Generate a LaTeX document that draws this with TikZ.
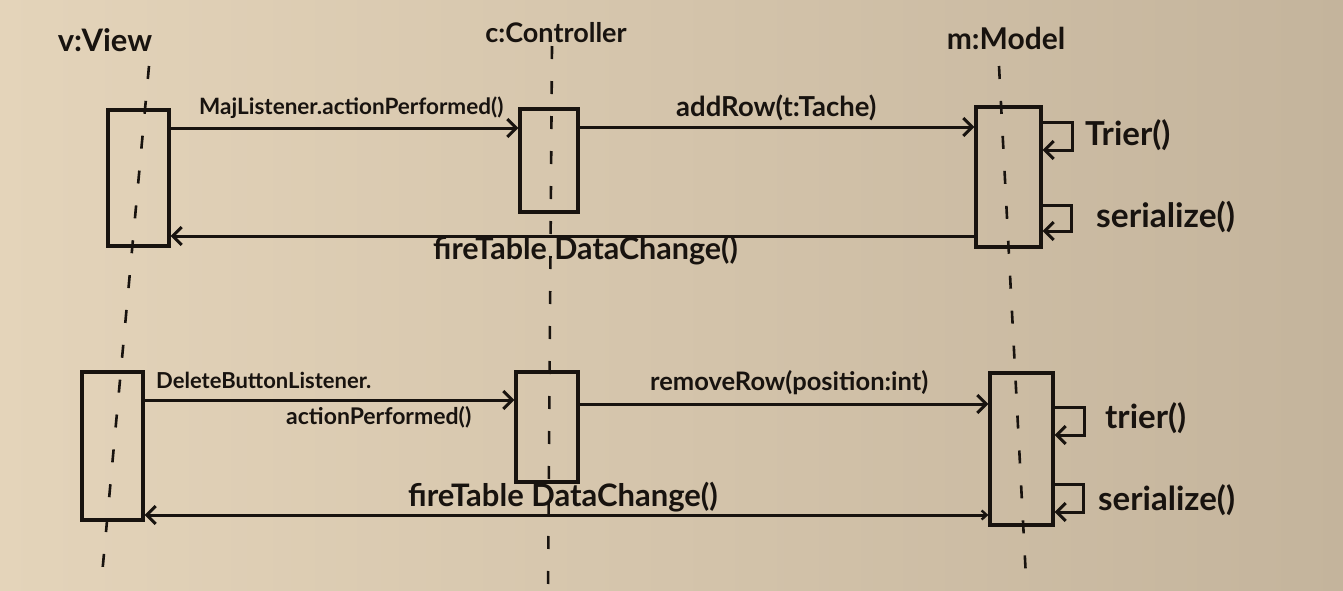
\documentclass[tikz,border=0pt]{standalone}
\usepackage{fontspec}
\setmainfont{Lato}
\usetikzlibrary{arrows.meta}
\definecolor{ink}{RGB}{24,19,15}
\definecolor{paperL}{RGB}{228,212,186}
\definecolor{paperM}{RGB}{240,228,206}
\definecolor{paperR}{RGB}{196,180,156}
\tikzset{
  actbox/.style={draw=ink, line width=3.2pt, minimum width=#1, inner sep=0pt},
  life/.style={draw=ink, line width=2.6pt, dash pattern=on 13pt off 22pt},
  msg/.style={draw=ink, line width=3pt, -{Straight Barb[length=9pt,width=18pt,line width=3pt]}},
  lbl/.style={text=ink, anchor=west, inner sep=0pt, font=\bfseries},
  ttl/.style={text=ink, inner sep=0pt, font=\bfseries},
}
\newcommand{\fs}[1]{\fontsize{#1}{#1}\selectfont}
\begin{document}
\begin{tikzpicture}[x=1pt,y=-1pt]
\shade[left color=paperL, middle color=paperM, right color=paperR] (0,0) rectangle (1343,590);
\useasboundingbox (0,0) rectangle (1343,590);

% titles
\node[ttl] (tv) at (105,40) {\fs{31}v:View};
\node[ttl] (tc) at (556,33) {\fs{27}c:Controller};
\node[ttl] (tm) at (1006,38) {\fs{30}m:Model};

% lifelines
\coordinate (vt) at (149,66);  \coordinate (vb) at (101,586);
\coordinate (ct) at (552,46);  \coordinate (cb) at (548,590);
\coordinate (mt) at (999,66);  \coordinate (mb) at (1026,578);
\draw[life] (vt) -- (vb);
\draw[life] (ct) -- (cb);
\draw[life] (mt) -- (mb);

% activation boxes (top)
\node[actbox=61pt, minimum height=136pt] (v1) at (138.5,178) {};
\node[actbox=58pt, minimum height=103pt] (c1) at (549,160.5) {};
\node[actbox=65pt, minimum height=140pt] (m1) at (1008.5,177) {};
% activation boxes (bottom)
\node[actbox=61pt, minimum height=148pt] (v2) at (112.5,446) {};
\node[actbox=62pt, minimum height=110pt] (c2) at (547,427) {};
\node[actbox=63pt, minimum height=152pt] (m2) at (1021.5,449) {};

% top messages
\draw[msg] (v1.east |- 0,128) -- (c1.west |- 0,128);
\draw[msg] (c1.east |- 0,127) -- (m1.west |- 0,127);
\draw[msg] (m1.east |- 0,122) -- ++(30,0) |- (m1.east |- 0,150);
\draw[msg] (m1.east |- 0,205) -- ++(29,0) |- (m1.east |- 0,231);
\draw[msg] (m1.west |- 0,236) -- (v1.east |- 0,236);

% bottom messages
\draw[msg] (v2.east |- 0,400) -- (c2.west |- 0,400);
\draw[msg] (c2.east |- 0,404) -- (m2.west |- 0,404);
\draw[msg] (m2.east |- 0,407) -- ++(30,0) |- (m2.east |- 0,435);
\draw[msg] (m2.east |- 0,484) -- ++(29,0) |- (m2.east |- 0,512);
\draw[msg, {Straight Barb[length=9pt,width=18pt,line width=3pt]}-{Straight Barb[length=5pt,width=9pt,line width=2.4pt]}] (v2.east |- 0,515) -- (m2.west |- 0,515);

% labels (top)
\node[lbl] (l1) at (199,108) {\fs{22.5}MajListener.actionPerformed()};
\node[lbl] (l2) at (676,108) {\fs{27.5}addRow(t:Tache)};
\node[lbl] (l3) at (1085,135) {\fs{33}Trier()};
\node[lbl] (l4) at (1096,217) {\fs{33.5}serialize()};
\node[lbl] (l5) at (433,250) {\fs{30.5}fireTable DataChange()};
% labels (bottom)
\node[lbl] (l6) at (156,380) {\fs{22}DeleteButtonListener.};
\node[lbl] (l7) at (286,417) {\fs{23}actionPerformed()};
\node[lbl] (l8) at (650,383) {\fs{25.5}removeRow(position:int)};
\node[lbl] (l9) at (1105,418) {\fs{33}trier()};
\node[lbl] (l10) at (1098,500) {\fs{33}serialize()};
\node[lbl] (l11) at (408,497) {\fs{31}fireTable DataChange()};
\end{tikzpicture}
\end{document}
